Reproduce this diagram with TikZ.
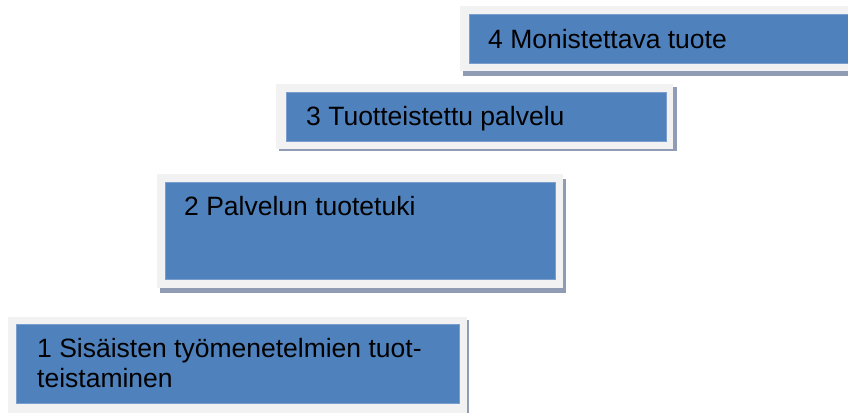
\documentclass[tikz,border=0pt]{standalone}
\usepackage{fontspec}
\setmainfont{Liberation Sans}
\definecolor{stepblue}{HTML}{4F81BD}
\definecolor{stepedge}{HTML}{7A9FCF}
\definecolor{stepframe}{HTML}{F2F2F2}
\definecolor{stepshadow}{HTML}{8F9CB3}
\begin{document}
\begin{tikzpicture}[x=1pt,y=1pt,
  shadowbox/.style={fill=stepshadow},
  framebox/.style={fill=stepframe},
  bluebox/.style={fill=stepblue,draw=stepedge,line width=0.8pt},
  steptext/.style={anchor=base west,inner sep=0pt,font=\fontsize{26.5}{30}\selectfont,text=black}]
  \useasboundingbox (0,0) rectangle (848,412);
  \clip (0,0) rectangle (848,412);
  \fill[white] (0,0) rectangle (848,412);

  % level 4
  \fill[shadowbox] (463,336) rectangle (866,401);
  \fill[framebox]  (460,341) rectangle (863,406);
  \path[bluebox]   (469,349) rectangle (870,398);
  \node[steptext] (s4) at (488,363) {4 Monistettava tuote};

  % level 3
  \fill[shadowbox] (279,261) rectangle (677,325);
  \fill[framebox]  (276,263) rectangle (673,328);
  \path[bluebox]   (286,271) rectangle (666,320);
  \node[steptext] (s3) at (306,286) {3 Tuotteistettu palvelu};

  % level 2
  \fill[shadowbox] (160,119) rectangle (566,233);
  \fill[framebox]  (157,124) rectangle (563,238);
  \path[bluebox]   (165,133) rectangle (555,230);
  \node[steptext] (s2) at (184,196) {2 Palvelun tuotetuki};

  % level 1 (base anchor sits on the last line)
  \fill[shadowbox] (10,-13) rectangle (469,92);
  \fill[framebox]  (8,-10) rectangle (467,95);
  \path[bluebox]   (16,9) rectangle (459,88);
  \node[steptext,align=left] (s1) at (37,24) {1 Sisäisten työmenetelmien tuot-\\teistaminen};
\end{tikzpicture}
\end{document}
